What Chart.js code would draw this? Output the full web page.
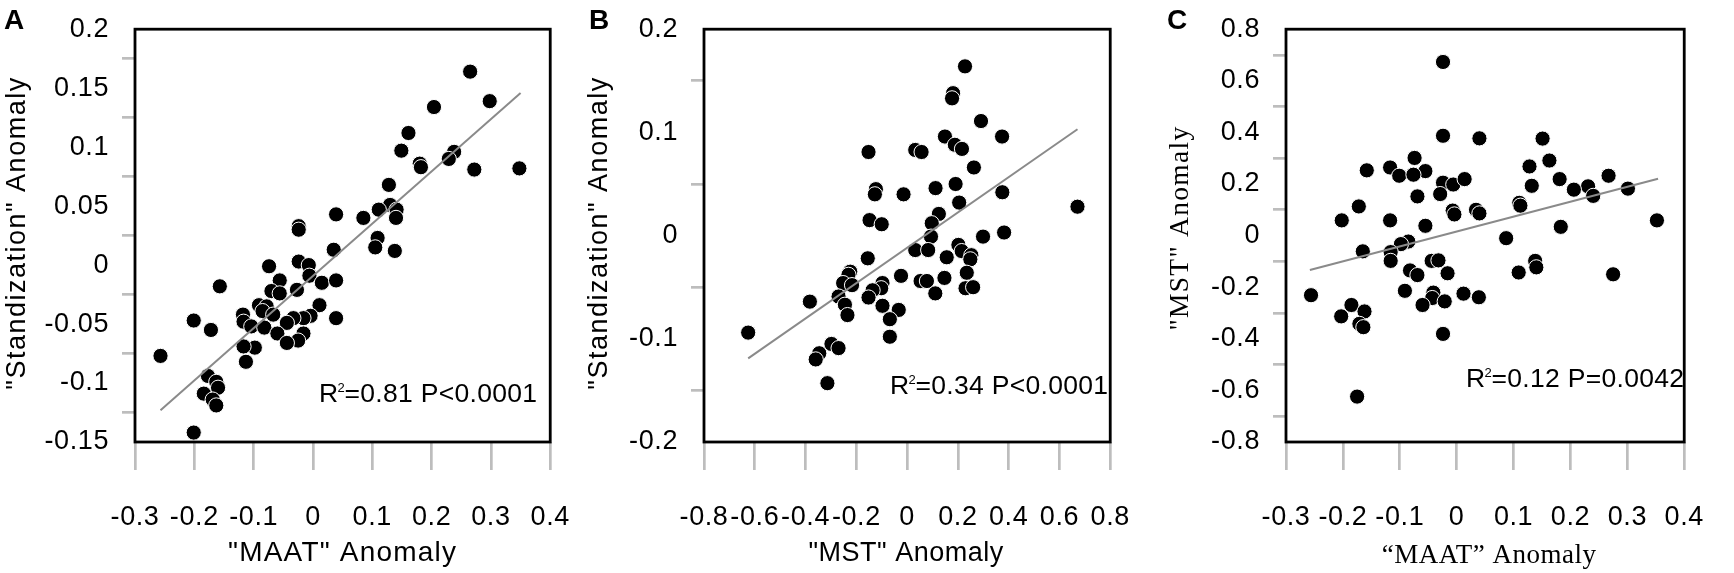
<!DOCTYPE html>
<html><head><meta charset="utf-8">
<script src="https://cdn.jsdelivr.net/npm/chart.js@4.4.1/dist/chart.umd.min.js"></script>
<style>
html,body{margin:0;padding:0;background:#fff;}
body{width:1734px;height:573px;position:relative;overflow:hidden;}
.box{position:absolute;top:0;height:573px;}
</style></head><body>
<div class="box" style="left:0;width:600px"><canvas id="cA"></canvas></div>
<div class="box" style="left:580px;width:580px"><canvas id="cB"></canvas></div>
<div class="box" style="left:1160px;width:574px"><canvas id="cC"></canvas></div>
<script>
// ---------- Panel A: "MAAT" anomaly vs "Standization" anomaly ----------
const maatA = [0.265,0.298,0.204,0.161,0.149,0.238,0.229,0.180,0.182,0.272,0.348,0.128,0.130,0.141,0.111,0.085,0.140,0.039,-0.024,-0.024,0.109,0.105,0.138,0.035,-0.024,-0.007,-0.006,-0.074,-0.056,0.015,0.039,-0.157,-0.070,-0.056,-0.027,0.011,-0.091,-0.078,-0.085,-0.067,-0.118,-0.117,-0.104,-0.082,-0.201,-0.172,-0.004,-0.016,-0.033,-0.044,0.039,-0.060,-0.016,-0.025,-0.044,-0.098,-0.117,-0.113,-0.257,-0.177,-0.163,-0.160,-0.184,-0.169,-0.163,-0.201];
const stdA  = [0.164,0.139,0.134,0.112,0.097,0.096,0.090,0.086,0.083,0.081,0.082,0.068,0.051,0.047,0.047,0.040,0.040,0.043,0.033,0.030,0.023,0.015,0.012,0.013,0.003,0.000,-0.009,-0.001,-0.013,-0.015,-0.013,-0.018,-0.022,-0.024,-0.021,-0.034,-0.034,-0.035,-0.039,-0.042,-0.042,-0.048,-0.052,-0.053,-0.047,-0.055,-0.043,-0.045,-0.045,-0.049,-0.045,-0.058,-0.058,-0.064,-0.066,-0.070,-0.069,-0.082,-0.077,-0.094,-0.099,-0.104,-0.109,-0.114,-0.119,-0.142];
const fitAX = [-0.257, 0.350];
const fitAY = [-0.123, 0.146];
const xTicksA = [-0.3,-0.2,-0.1,0,0.1,0.2,0.3,0.4];
const yTicksA = [-0.15,-0.1,-0.05,0,0.05,0.1,0.15,0.2];
const statA = ["R", "2", "=0.81 P<0.0001"];

// ---------- Panel B: "MST" anomaly vs "Standization" anomaly ----------
const mstB = [0.228,0.181,0.177,0.291,0.374,0.149,0.188,0.216,-0.152,0.032,0.057,0.263,0.191,0.112,-0.123,-0.127,-0.014,0.375,0.671,0.205,0.125,-0.148,-0.100,0.097,0.382,0.299,0.094,0.032,0.083,0.202,0.215,0.253,0.249,0.156,-0.155,-0.224,-0.231,-0.024,0.235,0.053,0.078,0.147,-0.097,-0.102,-0.252,-0.217,-0.136,-0.152,0.111,0.230,0.260,-0.383,-0.270,-0.245,-0.097,-0.033,-0.235,-0.068,-0.068,-0.626,-0.298,-0.270,-0.346,-0.360,-0.314];
const stdB = [0.164,0.138,0.133,0.111,0.096,0.096,0.088,0.084,0.081,0.083,0.081,0.066,0.050,0.046,0.045,0.040,0.040,0.042,0.028,0.032,0.021,0.015,0.011,0.012,0.003,-0.001,-0.001,-0.014,-0.014,-0.009,-0.015,-0.019,-0.023,-0.021,-0.022,-0.035,-0.038,-0.039,-0.036,-0.044,-0.044,-0.041,-0.046,-0.051,-0.046,-0.048,-0.053,-0.060,-0.056,-0.051,-0.050,-0.064,-0.059,-0.067,-0.068,-0.072,-0.077,-0.081,-0.098,-0.094,-0.105,-0.109,-0.114,-0.120,-0.143];
const fitBX = [-0.626, 0.671];
const fitBY = [-0.119, 0.103];
const xTicksB = [-0.8,-0.6,-0.4,-0.2,0,0.2,0.4,0.6,0.8];
const yTicksB = [-0.2,-0.1,0,0.1,0.2];
const statB = ["R", "2", "=0.34 P<0.0001"];

// ---------- Panel C: "MAAT" anomaly vs "MST" anomaly ----------
const maatC = [-0.024,-0.024,0.040,0.151,-0.074,0.163,-0.158,-0.117,-0.055,-0.101,-0.076,0.128,0.267,0.181,-0.024,-0.006,0.014,0.132,0.231,0.206,0.301,0.240,-0.029,-0.069,0.110,0.112,-0.172,-0.007,-0.004,0.034,0.040,-0.202,-0.117,0.352,-0.055,0.183,0.087,-0.085,-0.098,-0.165,-0.116,-0.116,-0.044,-0.032,0.138,0.140,-0.082,-0.069,-0.016,0.109,0.275,-0.256,-0.091,-0.041,-0.043,0.012,0.039,-0.060,-0.021,-0.185,-0.162,-0.203,-0.171,-0.164,-0.024,-0.175];
const mstC = [0.673,0.387,0.377,0.376,0.301,0.291,0.253,0.264,0.250,0.232,0.236,0.268,0.232,0.219,0.205,0.198,0.219,0.193,0.191,0.178,0.182,0.154,0.161,0.152,0.127,0.116,0.113,0.097,0.082,0.100,0.086,0.059,0.059,0.059,0.038,0.034,-0.010,-0.023,-0.033,-0.061,-0.064,-0.098,-0.098,-0.096,-0.098,-0.123,-0.135,-0.153,-0.146,-0.143,-0.150,-0.231,-0.214,-0.221,-0.242,-0.225,-0.239,-0.269,-0.255,-0.269,-0.294,-0.313,-0.342,-0.355,-0.381,-0.624];
const fitCX = [-0.258, 0.354];
const fitCY = [-0.133, 0.220];
const xTicksC = [-0.3,-0.2,-0.1,0,0.1,0.2,0.3,0.4];
const yTicksC = [-0.8,-0.6,-0.4,-0.2,0,0.2,0.4,0.6,0.8];
const statC = ["R", "2", "=0.12 P=0.0042"];

const SANS = '"Liberation Sans", Arial, sans-serif';
const SERIF = '"Liberation Serif", "Times New Roman", serif';

function pts(xs, ys){ return xs.map((x,i)=>({x:x, y:ys[i]})); }

function makeChart(id, c){
  const deco = {
    id: 'deco'+id,
    beforeDraw(chart){
      // slight horizontal spread of the tick label text, as in the reference
      chart.ctx.letterSpacing = '0.6px';
    },
    afterDatasetsDraw(chart){
      const a = chart.chartArea, ctx = chart.ctx;
      ctx.save();
      ctx.strokeStyle = '#000'; ctx.lineWidth = 2.8;
      ctx.strokeRect(a.left, a.top, a.right - a.left, a.bottom - a.top);
      ctx.restore();
    },
    afterDraw(chart){
      const a = chart.chartArea, ctx = chart.ctx;
      ctx.save();
      ctx.fillStyle = '#000';
      // panel letter
      ctx.letterSpacing = '0px';
      ctx.font = 'bold 28px ' + SANS;
      ctx.textAlign = 'left'; ctx.textBaseline = 'alphabetic';
      ctx.fillText(c.letter, c.letterX, 28.5);
      // x title
      ctx.font = c.xTitleFont;
      ctx.letterSpacing = c.xTitleSpacing;
      ctx.textAlign = 'center';
      ctx.fillText(c.xTitle, (a.left + a.right)/2 + c.xTitleDx, c.xTitleBase);
      // y title
      ctx.font = c.yTitleFont;
      ctx.letterSpacing = c.yTitleSpacing;
      ctx.save();
      ctx.translate(c.yTitleBase, c.yTitleMid);
      ctx.rotate(-Math.PI/2);
      ctx.fillText(c.yTitle, 0, 0);
      ctx.restore();
      // statistics annotation
      ctx.letterSpacing = '0.3px';
      ctx.textAlign = 'left';
      let x = c.statX;
      ctx.font = '26.5px ' + SANS;
      ctx.fillText(c.stat[0], x, c.statBase);
      x += ctx.measureText(c.stat[0]).width - 1;
      ctx.font = '13px ' + SANS;
      ctx.fillText(c.stat[1], x, c.statBase - 10);
      x += ctx.measureText(c.stat[1]).width - 0.5;
      ctx.font = '26.5px ' + SANS;
      ctx.fillText(c.stat[2], x, c.statBase);
      ctx.restore();
    }
  };
  const fmt = v => String(v);
  return new Chart(document.getElementById(id), {
    type: 'scatter',
    data: { datasets: [
      { data: pts(c.fitX, c.fitY), showLine: true, borderColor: '#8a8a8a', borderWidth: 2, pointRadius: 0, pointHoverRadius: 0, fill: false, order: 0, clip: false },
      { data: c.points, backgroundColor: '#000', borderColor: '#fff', borderWidth: 1, pointRadius: 7.6, pointHoverRadius: 7.6, order: 1, clip: false }
    ]},
    options: {
      responsive: true, maintainAspectRatio: false, animation: false, events: [],
      layout: { padding: { left: 0, top: c.top, right: c.right, bottom: 0 } },
      plugins: { legend: { display: false }, tooltip: { enabled: false } },
      scales: {
        x: {
          type: 'linear', position: 'bottom',
          min: c.xTicks[0], max: c.xTicks[c.xTicks.length-1],
          afterBuildTicks: s => { s.ticks = c.xTicks.map(v => ({value: v})); },
          afterFit: s => { s.height = 573 - 442; },
          grid: { drawOnChartArea: false, drawTicks: true, tickLength: 28, color: '#bdbdbd', lineWidth: 2.7 },
          border: { display: false },
          ticks: { autoSkip: false, maxRotation: 0, minRotation: 0, padding: 31, color: '#000', font: { family: SANS, size: 27 }, callback: fmt }
        },
        y: {
          type: 'linear', position: 'left',
          min: c.yTicks[0], max: c.yTicks[c.yTicks.length-1],
          afterBuildTicks: s => { s.ticks = c.yTicks.map(v => ({value: v})); },
          afterFit: s => { s.width = c.yw; },
          grid: { drawOnChartArea: false, drawTicks: true, tickLength: 13, offset: true, color: '#bdbdbd', lineWidth: 2.7 },
          border: { display: false },
          ticks: { autoSkip: false, padding: 13, color: '#000', font: { family: SANS, size: 27 }, callback: fmt }
        }
      }
    },
    plugins: [deco]
  });
}

makeChart('cA', {
  points: pts(maatA, stdA), fitX: fitAX, fitY: fitAY, xTicks: xTicksA, yTicks: yTicksA,
  top: 15.5, right: 35, yw: 135,
  letter: 'A', letterX: 4,
  xTitle: '"MAAT" Anomaly', xTitleFont: '28px ' + SANS, xTitleSpacing: '1.2px', xTitleDx: 0, xTitleBase: 561,
  yTitle: '"Standization" Anomaly', yTitleFont: '27px ' + SANS, yTitleSpacing: '1.5px', yTitleBase: 24.5, yTitleMid: 233,
  stat: statA, statX: 319, statBase: 402
});
makeChart('cB', {
  points: pts(mstB, stdB), fitX: fitBX, fitY: fitBY, xTicks: xTicksB, yTicks: yTicksB,
  top: 15.5, right: 26, yw: 124,
  letter: 'B', letterX: 9,
  xTitle: '"MST" Anomaly', xTitleFont: '27px ' + SANS, xTitleSpacing: '0.5px', xTitleDx: -1, xTitleBase: 561,
  yTitle: '"Standization" Anomaly', yTitleFont: '27px ' + SANS, yTitleSpacing: '1.5px', yTitleBase: 27, yTitleMid: 233,
  stat: statB, statX: 310, statBase: 393.5
});
makeChart('cC', {
  points: pts(maatC, mstC), fitX: fitCX, fitY: fitCY, xTicks: xTicksC, yTicks: yTicksC,
  top: 16.5, right: 22, yw: 126,
  letter: 'C', letterX: 7,
  xTitle: '\u201CMAAT\u201D Anomaly', xTitleFont: '27px ' + SERIF, xTitleSpacing: '0.5px', xTitleDx: 4, xTitleBase: 562.5,
  yTitle: '"MST" Anomaly', yTitleFont: '27.5px ' + SERIF, yTitleSpacing: '1.3px', yTitleBase: 28, yTitleMid: 228,
  stat: statC, statX: 306, statBase: 387
});
</script>
</body></html>
